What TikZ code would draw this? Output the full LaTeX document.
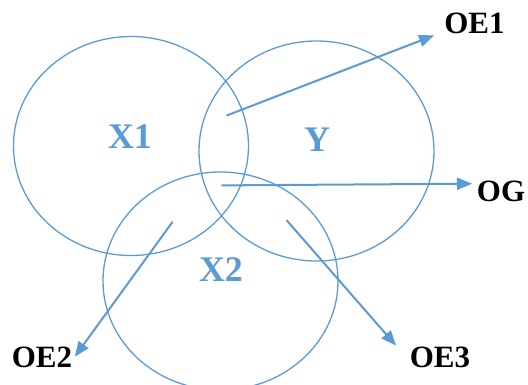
\documentclass[tikz,border=0pt]{standalone}
\usepackage{fontspec}
\setmainfont{Liberation Serif}
\usepackage{xcolor}
\usetikzlibrary{arrows.meta}
\definecolor{setblue}{HTML}{5B9BD5}

\begin{document}
\begin{tikzpicture}[
  x=1pt, y=-1pt, >={Triangle[length=15pt, width=12pt]},
  setring/.style={draw=setblue, line width=1.3pt},
  setlabel/.style={text=setblue, font=\fontsize{36}{36}\selectfont\bfseries, inner sep=0pt},
  outlabel/.style={text=black, font=\fontsize{31}{31}\selectfont\bfseries, inner sep=0pt},
  arrow/.style={->, setblue, line width=2pt}
]
\useasboundingbox (0,0) rectangle (528,385);

% sets
\draw[setring] (131,146) ellipse [x radius=117.5, y radius=109.5];
\draw[setring] (316.5,151) ellipse [x radius=117.5, y radius=110];
\draw[setring] (220.5,281) ellipse [x radius=117.5, y radius=109];

\node[setlabel] (x1) at (130,137) {X1};
\node[setlabel] (y) at (317,140) {Y};
\node[setlabel] (x2) at (221,270) {X2};

% outcomes
\node[outlabel] (oe1) at (474.5,23) {OE1};
\node[outlabel] (og) at (501,191) {OG};
\node[outlabel] (oe2) at (42,357.5) {OE2};
\node[outlabel] (oe3) at (440,357.5) {OE3};

\coordinate (s1) at (226.5,115.6);
\coordinate (sg) at (221.5,185.4);
\coordinate (s2) at (172.6,221.8);
\coordinate (s3) at (286.6,220.2);
\coordinate (t1) at (434,35.4);
\coordinate (tg) at (472,183.7);
\coordinate (t2) at (74.8,356.7);
\coordinate (t3) at (396,345.6);

\draw[arrow] (s1) -- (t1);
\draw[arrow] (sg) -- (tg);
\draw[arrow] (s2) -- (t2);
\draw[arrow] (s3) -- (t3);

\end{tikzpicture}
\end{document}
